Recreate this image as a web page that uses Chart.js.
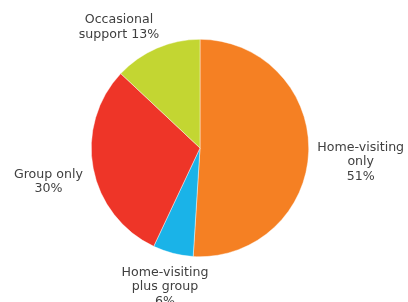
<!DOCTYPE html>
<html>
<head>
<meta charset="utf-8">
<script src="https://cdn.jsdelivr.net/npm/chart.js@4"></script>
<style>
  html, body { margin: 0; padding: 0; background: #fff; }
</style>
</head>
<body>
<canvas id="pie" width="408" height="302"></canvas>
<script>
// data
const categories = ['Home-visiting only', 'Home-visiting plus group', 'Group only', 'Occasional support'];
const values = [51, 6, 30, 13];
const colors = ['#F58023', '#1AB3E8', '#EE3528', '#C3D632'];
// how each label wraps (last line gets the percentage appended)
const labelLines = [
    ['Home-visiting', 'only', ''],
    ['Home-visiting', 'plus group', ''],
    ['Group only', ''],
    ['Occasional', 'support ']
];

// small hand nudges so labels sit where the original put them
const nudge = [[0, 9], [2, -5], [-1, 5], [-23, 13]];

const outsideLabels = {
    id: 'outsideLabels',
    afterDatasetsDraw(chart) {
        const ctx = chart.ctx;
        const meta = chart.getDatasetMeta(0);
        ctx.save();
        ctx.font = '12.6px "DejaVu Sans"';
        ctx.fillStyle = '#404040';
        ctx.textAlign = 'center';
        ctx.textBaseline = 'middle';
        const lh = 14.7;
        meta.data.forEach((arc, i) => {
            const p = arc.getProps(['x', 'y', 'startAngle', 'endAngle', 'outerRadius'], true);
            const mid = (p.startAngle + p.endAngle) / 2;
            const lines = labelLines[i].slice();
            lines[lines.length - 1] += values[i] + '%';
            const w = Math.max(...lines.map(l => ctx.measureText(l).width));
            const h = lines.length * lh;
            const cx = Math.cos(mid), cy = Math.sin(mid);
            const d = p.outerRadius + 8 + Math.abs(cx) * w / 2 + Math.abs(cy) * h / 2;
            const bx = p.x + cx * d + nudge[i][0];
            const by = p.y + cy * d + nudge[i][1];
            lines.forEach((l, k) => {
                ctx.fillText(l, bx, by - h / 2 + lh / 2 + k * lh);
            });
        });
        ctx.restore();
    }
};

const chart = new Chart(document.getElementById('pie'), {
    type: 'pie',
    data: {
        labels: categories,
        datasets: [{
            data: values,
            backgroundColor: colors,
            borderColor: 'rgba(255,255,255,0.7)',
            borderWidth: 0.6
        }]
    },
    options: {
        responsive: false,
        animation: false,
        layout: { padding: { left: 91, right: 99, top: 39, bottom: 45 } },
        plugins: {
            legend: { display: false },
            tooltip: { enabled: false }
        }
    },
    plugins: [outsideLabels]
});
</script>
</body>
</html>
